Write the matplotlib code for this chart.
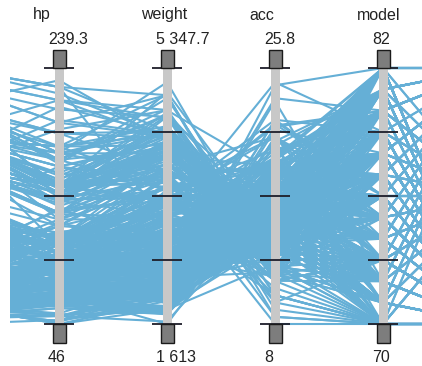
import numpy as np
import matplotlib
matplotlib.use("Agg")
import matplotlib.pyplot as plt
from matplotlib.collections import LineCollection
from matplotlib.patches import Rectangle

# cars data, one entry per car (70..82 model years)
disp = [307, 350, 318, 304, 302, 429, 454, 440, 455, 390, 383, 340, 400, 455, 113, 198, 199, 200, 97, 97, 110, 107, 104, 121, 199, 360, 307, 318, 304,
        97, 140, 113, 232, 225, 250, 250, 232, 350, 400, 351, 318, 383, 400, 400, 258, 140, 250, 250, 122, 116, 79, 88, 71, 72, 97, 91,
        113, 97.5, 97, 140, 122, 350, 400, 318, 351, 304, 429, 350, 350, 400, 70, 304, 307, 302, 318, 121, 121, 120, 96, 122, 97, 120, 98, 97,
        350, 304, 350, 302, 318, 429, 400, 351, 318, 440, 455, 360, 225, 250, 232, 250, 198, 97, 400, 400, 360, 350, 232, 97, 140, 108, 70, 122, 155, 98, 350, 400, 68, 116, 114, 121, 318, 121, 156, 350,
        198, 232, 250, 79, 122, 71, 140, 250, 258, 225, 302, 350, 318, 302, 304, 98, 79, 97, 76, 83, 90, 90, 116, 120, 108, 79,
        225, 250, 250, 250, 400, 350, 318, 351, 231, 250, 258, 225, 231, 262, 302, 97, 140, 232, 140, 134, 90, 119, 171, 90, 232, 115, 120, 121, 121, 91,
        107, 116, 140, 98, 101, 305, 318, 304, 351, 225, 250, 200, 232, 85, 98, 90, 91, 225, 250, 250, 258, 97, 85, 97, 140, 130, 318, 120, 156, 168, 350, 350, 302, 318,
        98, 111, 79, 122, 85, 305, 260, 318, 302, 250, 231, 225, 250, 400, 350, 400, 351, 97, 151, 97, 140, 98, 98, 97, 97, 146, 121, 80,
        90, 98, 78, 85, 91, 260, 318, 302, 231, 200, 200, 140, 225, 232, 231, 200, 225, 258, 305, 231, 302, 318, 98, 134, 119, 105, 134, 156, 151, 119, 131, 163, 121, 163, 89, 98,
        231, 200, 140, 232, 225, 305, 302, 351, 318, 350, 351, 267, 360, 89, 86, 98, 121, 183, 350, 141, 260, 105, 105, 85, 91, 151, 173, 173, 151,
        98, 89, 98, 86, 151, 140, 151, 225, 97, 134, 120, 119, 108, 86, 156, 85, 90, 90, 121, 146, 91, 97, 89, 168, 70, 122, 107,
        135, 151, 156, 173, 135, 79, 86, 81, 97, 85, 89, 91, 105, 98, 98, 105, 107, 108, 119, 120, 141, 145, 168, 146, 231, 350, 200, 225,
        112, 112, 112, 112, 135, 151, 140, 105, 91, 91, 105, 98, 120, 107, 108, 91, 91, 91, 181, 262, 156, 232, 144, 135, 151, 140, 97, 135, 120, 119]

hp = [130, 165, 150, 150, 140, 198, 220, 215, 225, 190, 170, 160, 150, 225, 95, 95, 97, 85, 88, 46, 87, 90, 95, 113, 90, 215, 200, 210, 193,
      88, 90, 95, 100, 105, 100, 88, 100, 165, 175, 153, 150, 180, 170, 175, 110, 72, 100, 88, 86, 90, 70, 76, 65, 69, 60, 70,
      95, 80, 54, 90, 86, 165, 175, 150, 153, 150, 208, 155, 160, 190, 97, 150, 130, 140, 150, 112, 76, 87, 69, 86, 92, 97, 80, 88,
      175, 150, 145, 137, 150, 198, 150, 158, 150, 215, 225, 175, 105, 100, 100, 88, 95, 46, 150, 167, 170, 180, 100, 88, 72, 94, 90, 85, 107, 90, 145, 230, 49, 75, 91, 112, 150, 110, 122, 180,
      95, 100, 100, 67, 80, 65, 75, 100, 110, 105, 140, 150, 150, 140, 150, 83, 67, 78, 52, 61, 75, 75, 75, 97, 93, 67,
      95, 105, 72, 72, 170, 145, 150, 148, 110, 105, 110, 95, 110, 110, 129, 75, 83, 100, 78, 96, 71, 97, 97, 70, 90, 95, 88, 98, 115, 53,
      86, 81, 92, 79, 83, 140, 150, 120, 152, 100, 105, 81, 90, 52, 60, 70, 53, 100, 78, 110, 95, 71, 70, 75, 72, 102, 150, 88, 108, 120, 180, 145, 130, 150,
      68, 80, 58, 96, 70, 145, 110, 145, 130, 110, 105, 100, 98, 180, 170, 190, 149, 78, 88, 75, 89, 63, 83, 67, 78, 97, 110, 110,
      48, 66, 52, 70, 60, 110, 140, 139, 105, 95, 85, 88, 100, 90, 105, 85, 110, 120, 145, 165, 139, 140, 68, 95, 97, 75, 95, 105, 85, 97, 103, 125, 115, 133, 71, 68,
      115, 85, 88, 90, 110, 130, 129, 138, 135, 155, 142, 125, 150, 71, 65, 80, 80, 77, 125, 71, 90, 70, 70, 65, 69, 90, 115, 115, 90,
      76, 60, 70, 65, 90, 88, 90, 90, 78, 90, 75, 92, 75, 65, 105, 65, 48, 48, 67, 67, 67, 67, 62, 132, 100, 88, 72,
      84, 84, 92, 110, 84, 58, 64, 60, 67, 65, 62, 68, 63, 65, 65, 74, 75, 75, 100, 74, 80, 76, 116, 120, 110, 105, 88, 85,
      88, 88, 88, 85, 84, 90, 92, 74, 68, 68, 63, 70, 88, 75, 70, 67, 67, 67, 110, 85, 92, 112, 96, 84, 90, 86, 52, 84, 79, 82]

weight = [3504, 3693, 3436, 3433, 3449, 4341, 4354, 4312, 4425, 3850, 3563, 3609, 3761, 3086, 2372, 2833, 2774, 2587, 2130, 1835, 2672, 2430, 2375, 2234, 2648, 4615, 4376, 4382, 4732,
          2130, 2264, 2228, 2634, 3439, 3329, 3302, 3288, 4209, 4464, 4154, 4096, 4955, 4746, 5140, 2962, 2408, 3282, 3139, 2220, 2123, 2074, 2065, 1773, 1613, 1834, 1955,
          2278, 2126, 2254, 2408, 2226, 4274, 4385, 4135, 4129, 3672, 4633, 4502, 4456, 4422, 2330, 3892, 4098, 4294, 4077, 2933, 2511, 2979, 2189, 2395, 2288, 2506, 2164, 2100,
          4100, 3672, 3988, 4042, 3777, 4952, 4464, 4363, 4237, 4735, 4951, 3821, 3121, 3278, 2945, 3021, 2904, 1950, 4997, 4906, 4654, 4499, 2789, 2279, 2401, 2379, 2124, 2310, 2472, 2265, 4082, 4278, 1867, 2158, 2582, 2868, 3399, 2660, 2807, 3664,
          3102, 2901, 3336, 1950, 2451, 1836, 2542, 3781, 3632, 3613, 4141, 4699, 4457, 4638, 4257, 2219, 1963, 2300, 1649, 2003, 2125, 2108, 2246, 2489, 2391, 2000,
          3264, 3459, 3432, 3158, 4668, 4440, 4498, 4657, 3907, 3897, 3730, 3785, 3039, 3221, 3169, 2171, 2639, 2914, 2592, 2702, 2223, 2545, 2984, 1937, 3211, 2694, 2957, 2945, 2671, 1795,
          2464, 2220, 2572, 2255, 2202, 4215, 4190, 3962, 4215, 3233, 3353, 3012, 3085, 2035, 2164, 1937, 1795, 3651, 3574, 3645, 3193, 1825, 1990, 2155, 2565, 3150, 3940, 3270, 2930, 3820, 4380, 4055, 3870, 3755,
          2045, 2155, 1825, 2300, 1945, 3880, 4060, 4140, 4295, 3520, 3425, 3630, 3525, 4220, 4165, 4325, 4335, 1940, 2740, 2265, 2755, 2051, 2075, 1985, 2190, 2815, 2600, 2720,
          1985, 1800, 1985, 2070, 1800, 3365, 3735, 3570, 3535, 3155, 2965, 2720, 3430, 3210, 3380, 3070, 3620, 3410, 3425, 3445, 3205, 4080, 2155, 2560, 2300, 2230, 2515, 2745, 2855, 2405, 2830, 3140, 2795, 3410, 1990, 2135,
          3245, 2990, 2890, 3265, 3360, 3840, 3725, 3955, 3830, 4360, 4054, 3605, 3940, 1925, 1975, 1915, 2670, 3530, 3900, 3190, 3420, 2200, 2150, 2020, 2130, 2670, 2595, 2700, 2556,
          2144, 1968, 2120, 2019, 2678, 2870, 3003, 3381, 2188, 2711, 2542, 2434, 2265, 2110, 2800, 2110, 2085, 2335, 2950, 3250, 1850, 2145, 1845, 2910, 2420, 2500, 2290,
          2490, 2635, 2620, 2725, 2385, 1755, 1875, 1760, 2065, 1975, 2050, 1985, 2215, 2045, 2380, 2190, 2210, 2350, 2615, 2635, 3230, 3160, 2900, 2930, 3415, 3725, 3060, 3465,
          2605, 2640, 2395, 2575, 2525, 2735, 2865, 1980, 2025, 1970, 2125, 2125, 2160, 2205, 2245, 1965, 1965, 1995, 2945, 3015, 2585, 2835, 2665, 2370, 2950, 2790, 2130, 2295, 2625, 2720]

acc = [12.0, 11.5, 11.0, 12.0, 10.5, 10.0, 9.0, 8.5, 10.0, 8.5, 10.0, 8.0, 9.5, 10.0, 15.0, 15.5, 15.5, 16.0, 14.5, 20.5, 17.5, 14.5, 17.5, 12.5, 15.0, 14.0, 15.0, 13.5, 18.5,
       14.5, 15.5, 14.0, 13.0, 15.5, 15.5, 15.5, 15.5, 12.0, 11.5, 13.5, 13.0, 11.5, 12.0, 12.0, 13.5, 19.0, 15.0, 14.5, 14.0, 14.0, 19.5, 14.5, 19.0, 18.0, 19.0, 20.5,
       15.5, 17.0, 23.5, 19.5, 16.5, 12.0, 12.0, 13.5, 13.0, 11.5, 11.0, 13.5, 13.5, 12.5, 13.5, 12.5, 14.0, 16.0, 14.0, 14.5, 18.0, 19.5, 18.0, 16.0, 17.0, 14.5, 15.0, 16.5,
       13.0, 11.5, 13.0, 14.5, 12.5, 11.5, 12.0, 13.0, 14.5, 11.0, 11.0, 11.0, 16.5, 18.0, 16.0, 16.5, 16.0, 21.0, 14.0, 12.5, 13.0, 12.5, 15.0, 19.0, 19.5, 16.5, 13.5, 18.5, 14.0, 15.5, 13.0, 9.5, 19.5, 15.5, 14.0, 15.5, 11.0, 14.0, 13.5, 11.0,
       16.5, 16.0, 17.0, 19.0, 16.5, 21.0, 17.0, 17.0, 18.0, 16.5, 14.0, 14.5, 13.5, 16.0, 15.5, 16.5, 15.5, 14.5, 16.5, 19.0, 14.5, 15.5, 14.0, 15.0, 15.5, 16.0,
       16.0, 16.0, 21.0, 19.5, 11.5, 14.0, 14.5, 13.5, 21.0, 18.5, 19.0, 19.0, 15.0, 13.5, 12.0, 16.0, 17.0, 16.0, 18.5, 13.5, 16.5, 17.0, 14.5, 14.0, 17.0, 15.0, 17.0, 14.5, 13.5, 17.5,
       15.5, 16.9, 14.9, 17.7, 15.3, 13.0, 13.0, 13.9, 12.8, 15.4, 14.5, 17.6, 17.6, 22.2, 22.1, 14.2, 17.4, 17.7, 21.0, 16.2, 17.8, 12.2, 17.0, 16.4, 13.6, 15.7, 13.2, 21.9, 15.5, 16.7, 12.1, 12.0, 15.0, 14.0,
       18.5, 14.8, 18.6, 15.5, 16.8, 12.5, 19.0, 13.7, 14.9, 16.4, 16.9, 17.7, 19.0, 11.1, 11.4, 12.2, 14.5, 14.5, 16.0, 18.2, 15.8, 17.0, 15.9, 16.4, 14.1, 14.5, 12.8, 13.5,
       21.5, 14.4, 19.4, 18.6, 16.4, 15.5, 13.2, 12.8, 19.2, 18.2, 15.8, 15.4, 17.2, 17.2, 15.8, 16.7, 18.7, 15.1, 13.2, 13.4, 11.2, 13.7, 16.5, 14.2, 14.7, 14.5, 14.8, 16.7, 17.6, 14.9, 15.9, 13.6, 15.7, 15.8, 14.9, 16.6,
       15.4, 18.2, 17.3, 18.2, 16.6, 15.4, 13.4, 13.2, 15.2, 14.9, 14.3, 15.0, 13.0, 14.0, 15.2, 14.4, 15.0, 20.1, 17.4, 24.8, 22.2, 13.2, 14.9, 19.2, 14.7, 16.0, 11.3, 12.9, 13.2,
       14.7, 18.8, 15.5, 16.4, 16.5, 18.1, 20.1, 18.7, 15.8, 15.5, 17.5, 15.0, 15.2, 17.9, 14.4, 19.2, 21.7, 23.7, 19.9, 21.8, 13.8, 18.0, 15.3, 11.4, 12.5, 15.1, 17.0,
       15.7, 16.4, 14.4, 12.6, 12.9, 16.9, 16.4, 16.1, 17.8, 19.4, 17.3, 16.0, 14.9, 16.2, 20.7, 14.2, 14.4, 16.8, 14.8, 18.3, 20.4, 19.6, 12.6, 13.8, 15.8, 19.0, 17.1, 16.6,
       19.6, 18.6, 18.0, 16.2, 16.0, 18.0, 16.4, 15.3, 18.2, 17.6, 14.7, 17.3, 14.5, 14.5, 16.9, 15.0, 15.7, 16.2, 16.4, 17.0, 14.5, 14.7, 13.9, 13.0, 17.3, 15.6, 24.6, 11.6, 18.6, 19.4]

model = ([70] * 29 + [71] * 27 + [72] * 28 + [73] * 40 + [74] * 26 + [75] * 30 + [76] * 34
         + [77] * 28 + [78] * 36 + [79] * 29 + [80] * 27 + [81] * 28 + [82] * 30)

origin = [1, 1, 1, 1, 1, 1, 1, 1, 1, 1, 1, 1, 1, 1, 3, 1, 1, 1, 3, 2, 2, 2, 2, 2, 1, 1, 1, 1, 1,
          3, 1, 3, 1, 1, 1, 1, 1, 1, 1, 1, 1, 1, 1, 1, 1, 1, 1, 1, 1, 2, 2, 2, 3, 3, 2, 1,
          3, 1, 2, 1, 1, 1, 1, 1, 1, 1, 1, 1, 1, 1, 3, 1, 1, 1, 1, 2, 2, 2, 2, 1, 3, 3, 1, 3,
          1, 1, 1, 1, 1, 1, 1, 1, 1, 1, 1, 1, 1, 1, 1, 1, 1, 2, 1, 1, 1, 1, 1, 3, 1, 3, 3, 1, 1, 2, 1, 1, 2, 2, 2, 2, 1, 2, 3, 1,
          1, 1, 1, 3, 1, 3, 1, 1, 1, 1, 1, 1, 1, 1, 1, 2, 2, 2, 3, 3, 1, 2, 2, 3, 3, 2,
          1, 1, 1, 1, 1, 1, 1, 1, 1, 1, 1, 1, 1, 1, 1, 3, 1, 1, 1, 3, 2, 3, 1, 2, 1, 2, 2, 2, 2, 3,
          2, 2, 1, 1, 2, 1, 1, 1, 1, 1, 1, 1, 1, 1, 1, 2, 3, 1, 1, 1, 1, 2, 3, 3, 1, 2, 1, 2, 3, 2, 1, 1, 1, 1,
          3, 1, 2, 1, 3, 1, 1, 1, 1, 1, 1, 1, 1, 1, 1, 1, 1, 2, 1, 3, 1, 1, 1, 3, 2, 3, 2, 3,
          2, 1, 3, 3, 3, 1, 1, 1, 1, 1, 1, 1, 1, 1, 1, 1, 1, 1, 1, 1, 1, 1, 1, 3, 3, 1, 3, 1, 1, 3, 2, 2, 2, 2, 2, 3,
          1, 1, 1, 1, 1, 1, 1, 1, 1, 1, 1, 1, 1, 2, 3, 1, 1, 2, 1, 2, 1, 1, 1, 3, 2, 1, 1, 1, 1,
          2, 3, 1, 3, 1, 1, 1, 1, 2, 3, 3, 3, 3, 3, 1, 3, 2, 2, 2, 2, 3, 3, 2, 3, 3, 2, 3,
          1, 1, 1, 1, 1, 3, 1, 3, 3, 3, 3, 3, 1, 1, 1, 2, 3, 3, 3, 3, 2, 2, 3, 3, 1, 1, 1, 1,
          1, 1, 1, 1, 1, 1, 1, 2, 3, 3, 1, 1, 3, 3, 3, 3, 3, 3, 1, 1, 1, 1, 3, 1, 1, 1, 2, 1, 1, 1]

# visible axes and their ranges (disp / origin axes sit just outside the view)
names = ["hp", "weight", "acc", "model"]
lo = [46, 1613, 8, 70]
hi = [239.3, 5347.7, 25.8, 82]
disp_range = (68, 455)
origin_range = (1, 3)

cols = [disp, hp, weight, acc, model, origin]
ranges = [disp_range] + list(zip(lo, hi)) + [origin_range]
data = np.column_stack([(np.array(c, float) - r0) / (r1 - r0) for c, (r0, r1) in zip(cols, ranges)])
xs = np.arange(-1, 5)

fig = plt.figure(figsize=(4.22, 3.66), dpi=100)
ax = fig.add_axes([10 / 422, 0, 412 / 422, 1])
ax.set_xlim(-49 / 108, 363 / 108)
ax.set_ylim(-42 / 256, 1 + 68 / 256)
ax.axis("off")

segs = [np.column_stack([xs, row]) for row in data]
ax.add_collection(LineCollection(segs, colors="#65afd6", linewidths=1.5, zorder=1))

px = 1 / 108
py = 1 / 256
for i, name in enumerate(names):
    ax.plot([i, i], [0, 1], color="#c8c8c8", lw=9 * 0.72, solid_capstyle="butt", zorder=3)
    ax.hlines(np.linspace(0, 1, 5), i - 15 * px, i + 15 * px, color="#1e1e2a", lw=1.3, zorder=4)
    ax.add_patch(Rectangle((i - 6.5 * px, 1), 13 * px, 18 * py, fc="#7d7d7d", ec="#1a1a1a",
                           lw=1, zorder=4, clip_on=False))
    ax.add_patch(Rectangle((i - 6.5 * px, -19 * py), 13 * px, 19 * py, fc="#7d7d7d", ec="#1a1a1a",
                           lw=1, zorder=4, clip_on=False))
    ax.text(i - 26 * px, 1 + 53 * py, name, ha="left", va="center", fontsize=11.5,
            family="Liberation Sans", color="#222222")
    ax.text(i - 11 * px, 1 + 28 * py, "{:,}".format(hi[i]).replace(",", " "), ha="left",
            va="center", fontsize=11.5, family="Liberation Sans", color="#222222")
    ax.text(i - 11 * px, -33 * py, "{:,}".format(lo[i]).replace(",", " "), ha="left",
            va="center", fontsize=11.5, family="Liberation Sans", color="#222222")

fig.savefig("out.png", dpi=100)
